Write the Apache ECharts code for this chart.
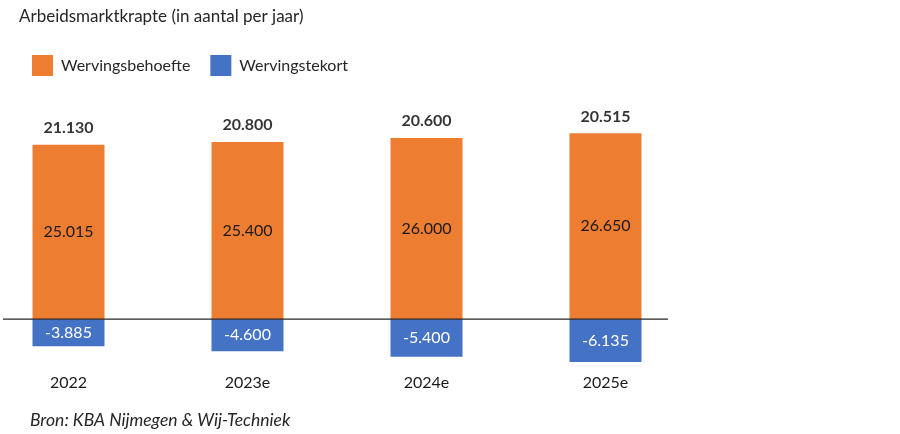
<!DOCTYPE html>
<html>
<head>
<meta charset="utf-8">
<script src="https://cdn.jsdelivr.net/npm/echarts@6/dist/echarts.min.js"></script>
<style>
html,body{margin:0;padding:0;background:#fff;overflow:hidden;}
#wrap{position:relative;width:900px;height:434px;overflow:hidden;}
#chart{position:absolute;left:-21px;top:0;width:921px;height:434px;}
</style>
</head>
<body>
<div id="wrap"><div id="chart"></div></div>
<script>
const categories = ['2022', '2023e', '2024e', '2025e'];
const behoefte = [25015, 25400, 26000, 26650];
const tekort = [-3885, -4600, -5400, -6135];
const totals = [21130, 20800, 20600, 20515];

function fmt(v) {
  const s = Math.abs(v).toString().replace(/\B(?=(\d{3})+(?!\d))/g, '.');
  return (v < 0 ? '-' : '') + s;
}

const FONT = 'Lato';
const OFF = 21; // chart canvas is shifted left by this many px
const chart = echarts.init(document.getElementById('chart'));
chart.setOption({
  animation: false,
  backgroundColor: '#ffffff',
  title: [{
    text: 'Arbeidsmarktkrapte (in aantal per jaar)',
    left: 19 + OFF, top: 8, padding: 0,
    textStyle: { fontFamily: FONT, fontSize: 17, fontWeight: 'normal', color: '#262626' }
  }, {
    text: 'Bron: KBA Nijmegen & Wij-Techniek',
    left: 30 + OFF, top: 411, padding: 0,
    textStyle: { fontFamily: FONT, fontSize: 17.5, fontWeight: 'normal', fontStyle: 'italic', color: '#262626' }
  }],
  legend: {
    data: ['Wervingsbehoefte', 'Wervingstekort'],
    left: 32 + OFF, top: 55, padding: 0,
    itemWidth: 21, itemHeight: 21, itemGap: 20,
    icon: 'rect',
    textStyle: { fontFamily: FONT, fontSize: 16, color: '#262626', padding: [0, 0, 0, 3] }
  },
  grid: { left: 0, width: 716, top: 110, height: 258, containLabel: false },
  xAxis: {
    type: 'category',
    data: categories,
    axisLine: { show: false },
    axisTick: { show: false },
    axisLabel: { fontFamily: FONT, fontSize: 16, color: '#1a1a1a', margin: 7 }
  },
  yAxis: {
    type: 'value', min: -7000, max: 30000,
    show: false, splitLine: { show: false }
  },
  series: [{
    name: 'Wervingsbehoefte', type: 'bar', stack: 'a',
    data: behoefte, barWidth: 72,
    itemStyle: { color: '#ED7D31' },
    label: { show: true, position: 'inside', fontFamily: FONT, fontSize: 16, color: '#1a1a1a',
      formatter: p => fmt(p.value) }
  }, {
    name: 'Wervingstekort', type: 'bar', stack: 'a',
    data: tekort, barWidth: 72,
    itemStyle: { color: '#4472C4' },
    label: { show: true, position: 'inside', fontFamily: FONT, fontSize: 16, color: '#ffffff',
      formatter: p => fmt(p.value) }
  }, {
    name: 'Totaal', type: 'scatter',
    data: behoefte.map((v, i) => [categories[i], v]),
    symbolSize: 0, silent: true,
    label: { show: true, position: 'top', distance: 9, fontFamily: FONT, fontSize: 16, fontWeight: 'bold', color: '#000',
      formatter: p => fmt(totals[p.dataIndex]) }
  }]
});

const y0 = chart.convertToPixel({ yAxisIndex: 0 }, 0);
chart.setOption({
  graphic: [{
    type: 'line',
    shape: { x1: 3 + OFF, y1: y0, x2: 668 + OFF, y2: y0 },
    style: { stroke: '#262626', lineWidth: 1.3 },
    z: 100
  }]
});
</script>
</body>
</html>
